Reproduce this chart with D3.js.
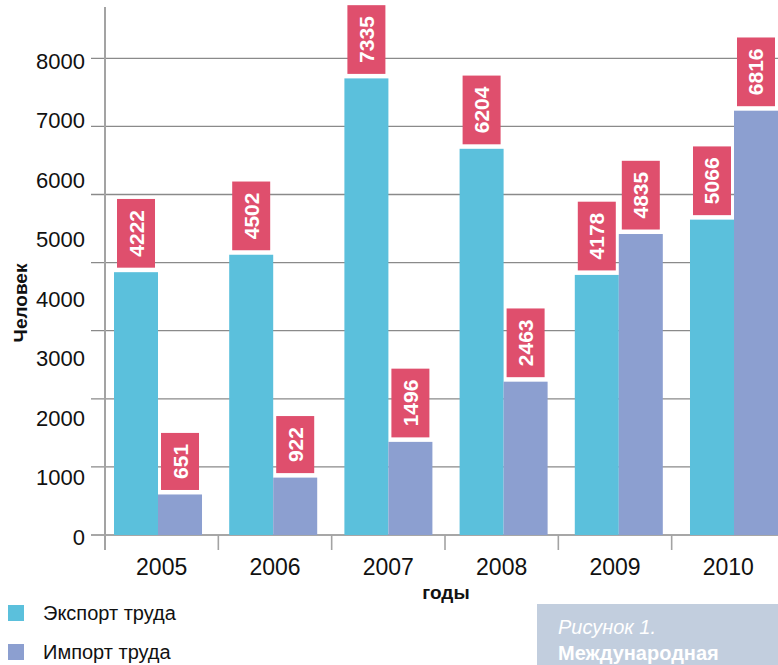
<!DOCTYPE html>
<html><head><meta charset="utf-8">
<script src="https://cdn.jsdelivr.net/npm/d3@7"></script>
<style>body{margin:0;background:#fff}svg{display:block}text{font-family:"Liberation Sans",Arial,sans-serif}</style>
</head><body><svg id="c" width="778" height="665"></svg>
<script>
const years = ["2005","2006","2007","2008","2009","2010"];
const exportVals = [4222, 4502, 7335, 6204, 4178, 5066];
const importVals = [651, 922, 1496, 2463, 4835, 6816];
const seriesNames = ["Экспорт труда", "Импорт труда"];
const seriesColors = ["#5bc0dc", "#8c9fd0"];
const yTickValues = [0,1000,2000,3000,4000,5000,6000,7000,8000];
const gridCount = 7;
const yTitle = "Человек";
const xTitle = "годы";
const captionLines = ["Рисунок 1.", "Международная"];

const svg = d3.select("#c");
const W = 778;

// scales
const yBar = d3.scaleLinear().domain([0, 8000]).range([535, 37]);
const yLabel = d3.scaleLinear().domain([0, 8000]).range([537, 61]);
const yGrid = d3.scaleLinear().domain([0, gridCount]).range([535, 58.3]);
const xTick = d3.scaleBand().domain(years).range([105, 785]);
const xBar = d3.scaleBand().domain(years).range([114, 778]).paddingInner(0.236).paddingOuter(0);
const xSub = d3.scaleBand().domain([0,1]).range([0, xBar.bandwidth()]);

// gridlines
svg.append("g").selectAll("line").data(yGrid.ticks(gridCount)).join("line")
  .attr("x1", 91).attr("x2", W)
  .attr("y1", d => yGrid(d)).attr("y2", d => yGrid(d))
  .attr("stroke", "#8a8a8a").attr("stroke-width", 1.3);

// y axis line
svg.append("line").attr("x1", 105).attr("x2", 105).attr("y1", 7).attr("y2", 550)
  .attr("stroke", "#a3a3a3").attr("stroke-width", 2);

// x ticks at category boundaries
svg.append("g").selectAll("line").data(years.slice(1)).join("line")
  .attr("x1", d => xTick(d)).attr("x2", d => xTick(d))
  .attr("y1", 535).attr("y2", 550)
  .attr("stroke", "#a3a3a3").attr("stroke-width", 1.6);

// y tick labels
svg.append("g").selectAll("text").data(yTickValues).join("text")
  .attr("x", 85).attr("y", d => yLabel(d)).attr("dy", "0.36em")
  .attr("text-anchor", "end").attr("font-size", 22).attr("fill", "#111")
  .text(d => d);

// year labels
svg.append("g").selectAll("text").data(years).join("text")
  .attr("x", d => xTick(d) + xTick.bandwidth()/2).attr("y", 575)
  .attr("text-anchor", "middle").attr("font-size", 23).attr("fill", "#111")
  .text(d => d);

// bars
const rows = years.map((y, i) => ({year: y, vals: [exportVals[i], importVals[i]]}));
const groups = svg.append("g").selectAll("g").data(rows).join("g")
  .attr("transform", d => `translate(${xBar(d.year)},0)`);
groups.selectAll("rect").data(d => d.vals.map((v, k) => ({v, k}))).join("rect")
  .attr("x", d => xSub(d.k)).attr("width", xSub.bandwidth())
  .attr("y", d => yBar(d.v)).attr("height", d => yBar(0) - yBar(d.v))
  .attr("fill", d => seriesColors[d.k]);

// value labels
groups.each(function(row) {
  const g = d3.select(this);
  row.vals.forEach((v, k) => {
    const cx = xSub(k) + xSub.bandwidth()/2;
    const lg = g.append("g");
    const t = lg.append("text").text(v)
      .attr("font-size", 21).attr("font-weight", "bold").attr("fill", "#fff")
      .attr("text-anchor", "middle");
    const len = t.node().getComputedTextLength();
    const bh = len + 22, bw = 38;
    const bottom = yBar(v) - 4.5;
    lg.insert("rect", "text").attr("x", cx - bw/2).attr("y", bottom - bh)
      .attr("width", bw).attr("height", bh).attr("fill", "#df4f6d");
    t.attr("transform", `translate(${cx + 7.5},${bottom - bh/2}) rotate(-90)`);
  });
});

// axis titles
svg.append("text").attr("transform", "translate(27,303) rotate(-90)")
  .attr("text-anchor", "middle").attr("font-size", 19).attr("font-weight", "bold")
  .attr("fill", "#111").text(yTitle);
svg.append("text").attr("x", 446).attr("y", 599).attr("text-anchor", "middle")
  .attr("font-size", 19).attr("font-weight", "bold").attr("fill", "#111").text(xTitle);

// legend
const leg = svg.append("g").selectAll("g").data(seriesNames).join("g")
  .attr("transform", (d, i) => `translate(8,${605 + i*39})`);
leg.append("rect").attr("width", 16).attr("height", 16).attr("fill", (d, i) => seriesColors[i]);
leg.append("text").attr("x", 35).attr("y", 15).attr("font-size", 20).attr("fill", "#111").text(d => d);

// caption box
svg.append("rect").attr("x", 537).attr("y", 604).attr("width", W - 537).attr("height", 61).attr("fill", "#c2cede");
svg.append("text").attr("x", 558).attr("y", 634).attr("font-size", 20).attr("font-style", "italic")
  .attr("fill", "#fff").text(captionLines[0]);
svg.append("text").attr("x", 558).attr("y", 660).attr("font-size", 20).attr("font-weight", "bold")
  .attr("fill", "#fff").text(captionLines[1]);
</script></body></html>
